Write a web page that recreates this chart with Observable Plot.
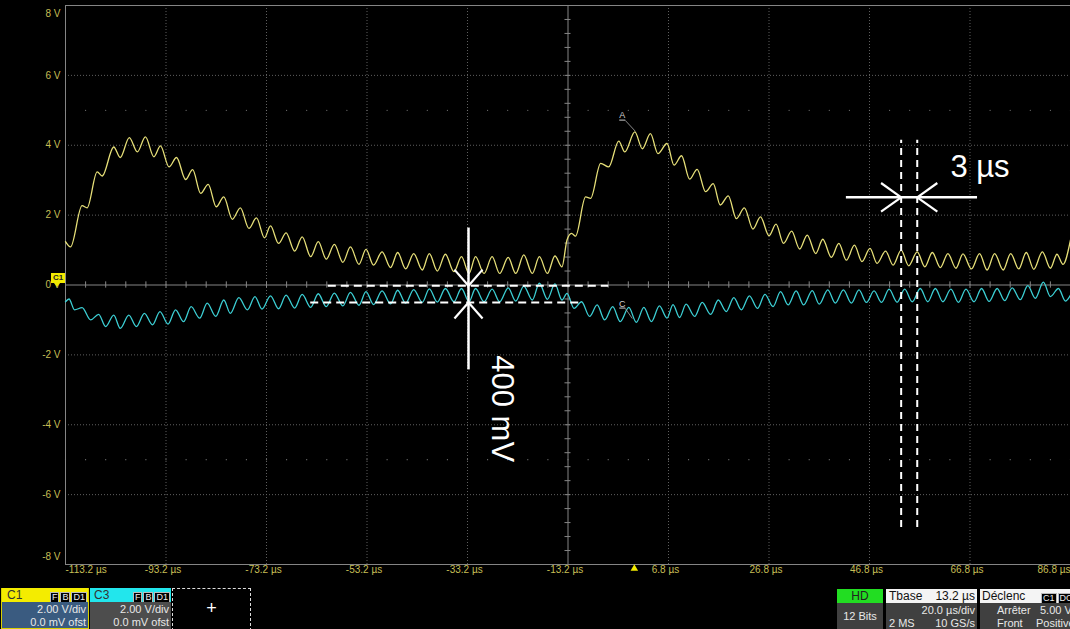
<!DOCTYPE html>
<html><head><meta charset="utf-8">
<script src="https://cdn.jsdelivr.net/npm/d3@7"></script>
<script src="https://cdn.jsdelivr.net/npm/@observablehq/plot@0.6"></script>
<style>
body{margin:0;background:#000;overflow:hidden}
#wrap{position:relative;width:1070px;height:629px;overflow:hidden;background:#000;font-family:"Liberation Sans",Arial,sans-serif}
#chart{position:absolute;left:0;top:0}
.box{position:absolute;box-sizing:border-box;overflow:hidden;font-size:11px;color:#e8e8e8}
.hdr{position:absolute;left:0;right:0;top:0;height:14px;line-height:14px;font-size:12px}
.bdy{position:absolute;left:0;right:0;top:14px;bottom:0}
.r{position:absolute;right:2px;white-space:nowrap}
.l{position:absolute;left:3px;white-space:nowrap}
.bd{display:inline-block;background:#000;color:#eee;border:1px solid #bbb;font-size:9px;line-height:9px;padding:0 1px;margin-left:1px}
#badge{position:absolute;left:51px;top:273px;width:14px;height:10px;background:#f2ea00;color:#222;font-size:8px;line-height:10px;text-align:center;font-weight:bold}
#badgeTri{position:absolute;left:54px;top:283px;width:0;height:0;border-left:3px solid transparent;border-right:3px solid transparent;border-top:4px solid #f2ea00}
</style></head>
<body><div id="wrap"><div id="chart"></div>
<div id="badge">C1</div><div id="badgeTri"></div>
<div class="box" style="left:1px;top:588px;width:88px;height:41px;border:1px solid #d8d000;border-top:none">
  <div class="hdr" style="background:#f4ec00;color:#333"><span style="position:absolute;left:5px">C1</span><span style="position:absolute;right:1px;top:1px"><span class="bd">F</span><span class="bd">B</span><span class="bd">D1</span></span></div>
  <div class="bdy" style="background:#3a5b80"><span class="r" style="top:1px">2.00 V/div</span><span class="r" style="top:14px">0.0 mV ofst</span></div>
</div>
<div class="box" style="left:90px;top:588px;width:81px;height:41px">
  <div class="hdr" style="background:#22e6ec;color:#333"><span style="position:absolute;left:4px">C3</span><span style="position:absolute;right:1px;top:1px"><span class="bd">F</span><span class="bd">B</span><span class="bd">D1</span></span></div>
  <div class="bdy" style="background:#4d4d4d"><span class="r" style="top:1px">2.00 V/div</span><span class="r" style="top:14px">0.0 mV ofst</span></div>
</div>
<div class="box" style="left:172px;top:588px;width:79px;height:43px;border:1px dashed #ddd;font-size:18px;text-align:center;line-height:38px;color:#fff">+</div>
<div class="box" style="left:837px;top:589px;width:46px;height:40px">
  <div class="hdr" style="background:#22dd22;color:#222;text-align:center">HD</div>
  <div class="bdy" style="background:#404040;text-align:center;line-height:26px">12 Bits</div>
</div>
<div class="box" style="left:886px;top:589px;width:91px;height:40px">
  <div class="hdr" style="background:#f4f4f4;color:#111"><span class="l">Tbase</span><span class="r">13.2 µs</span></div>
  <div class="bdy" style="background:#404040"><span class="r" style="top:1px">20.0 µs/div</span><span class="l" style="top:14px">2 MS</span><span class="r" style="top:14px">10 GS/s</span></div>
</div>
<div class="box" style="left:980px;top:589px;width:100px;height:40px">
  <div class="hdr" style="background:#f4f4f4;color:#111"><span class="l" style="left:2px">Déclenc</span><span style="position:absolute;left:60px;top:1px"><span class="bd">C1</span><span class="bd">DC</span></span></div>
  <div class="bdy" style="background:#404040"><span class="l" style="top:1px;left:17px">Arrêter</span><span style="position:absolute;left:60px;top:1px">5.00 V</span><span class="l" style="top:14px;left:17px">Front</span><span style="position:absolute;left:56px;top:14px">Positive</span></div>
</div>
</div>
<script>
// ---- axis ticks ----
const xTicks = [-113.2,-93.2,-73.2,-53.2,-33.2,-13.2,6.8,26.8,46.8,66.8,86.8]; // µs
const yTicks = [8,6,4,2,0,-2,-4,-6,-8]; // V
const centerTime = -13.2;

// ---- C1 (yellow) waveform: ripple extremes ----
const c1Time = [-113.2,-112.2,-109.9,-108.9,-106.9,-105.9,-103.6,-102.3,-100.5,-98.9,-97.3,-95.6,-94.3,-92.6,-91.1,-89.3,-87.9,-86.3,-84.8,-83.2,-81.7,-80.0,-78.4,-76.7,-75.2,-73.6,-72.4,-70.8,-69.3,-67.6,-66.1,-64.4,-62.9,-61.3,-59.7,-58.0,-56.5,-54.8,-53.4,-51.9,-50.2,-48.5,-47.1,-45.5,-43.9,-42.2,-40.8,-39.2,-37.6,-35.9,-34.4,-32.9,-31.6,-29.9,-28.3,-26.8,-25.1,-23.6,-22.0,-20.3,-18.9,-17.3,-15.8,-14.4,-13.4,-12.5,-11.7,-9.7,-8.7,-6.7,-5.1,-3.1,-1.9,0.1,1.6,3.2,4.7,6.5,7.9,9.4,11.0,12.5,14.2,15.7,17.1,18.7,20.3,21.9,23.6,25.1,26.8,28.2,29.7,31.3,32.9,34.4,36.1,37.5,39.2,40.7,42.2,43.8,45.3,46.9,48.3,50.0,51.5,53.1,54.6,56.3,57.8,59.3,60.9,62.4,64.0,65.4,67.1,68.7,70.2,71.7,73.4,74.9,76.5,78.0,79.5,81.2,82.8,84.1,85.3,86.8];
const c1Volt = [1.24,1.09,2.27,2.21,3.24,3.12,3.95,3.65,4.22,3.81,4.24,3.67,3.98,3.38,3.65,3.02,3.30,2.62,2.88,2.24,2.52,1.88,2.21,1.62,1.92,1.35,1.69,1.19,1.49,0.97,1.38,0.81,1.24,0.74,1.16,0.65,1.09,0.59,1.02,0.57,0.95,0.50,0.93,0.46,0.90,0.43,0.90,0.40,0.88,0.38,0.81,0.33,0.81,0.33,0.81,0.33,0.79,0.33,0.86,0.33,0.81,0.33,0.83,0.52,1.29,1.48,1.40,2.52,2.48,3.48,3.38,4.12,3.81,4.38,3.90,4.33,3.76,4.05,3.43,3.70,3.03,3.31,2.67,2.90,2.29,2.55,1.90,2.21,1.60,1.95,1.41,1.74,1.19,1.54,1.03,1.43,0.90,1.31,0.79,1.19,0.71,1.14,0.67,1.05,0.62,0.97,0.57,1.00,0.55,0.95,0.52,0.93,0.50,0.90,0.48,0.89,0.46,0.90,0.43,0.90,0.43,0.90,0.46,0.93,0.45,0.95,0.48,0.88,0.59,1.29];

// ---- C3 (cyan) waveform ----
const c3Time = [-113.2,-112.5,-111.4,-109.9,-108.2,-106.6,-105.2,-103.6,-102.3,-100.6,-99.1,-97.5,-95.9,-94.4,-92.8,-91.3,-89.7,-88.2,-86.5,-85.0,-83.3,-81.7,-80.4,-78.7,-77.0,-75.5,-74.1,
 -72.4,-70.8,-69.3,-67.6,-66.1,-64.4,-62.9,-61.3,-59.7,-58.0,-56.5,-54.8,-53.4,-51.9,-50.2,-48.5,-47.1,-45.5,-43.9,-42.2,-40.8,-39.2,-37.6,-35.9,-34.4,-32.9,-31.6,-29.9,-28.3,-26.8,-25.1,-23.6,-22.0,-20.3,-18.9,-17.3,-15.8,-14.4,
 -13.4,-12.0,-10.5,-8.9,-7.4,-5.9,-4.3,-2.8,-1.1,0.4,1.9,3.4,5.0,6.5,7.7,9.0,10.3,12.0,13.5,15.2,16.7,18.3,19.8,21.3,22.9,24.5,26.0,27.6,29.1,30.6,32.2,33.7,35.4,36.8,38.5,40.0,41.6,43.2,44.7,46.2,47.7,49.2,50.7,52.3,53.8,55.3,56.9,58.4,59.9,61.4,63.0,64.5,66.0,67.6,69.1,70.6,72.2,73.7,75.2,76.8,78.3,79.8,81.4,82.8,84.4,85.8,86.8];
const c3Volt = [-0.48,-0.40,-0.71,-0.65,-1.00,-0.84,-1.19,-0.86,-1.24,-0.86,-1.19,-0.81,-1.14,-0.76,-1.12,-0.71,-1.05,-0.62,-0.95,-0.52,-0.90,-0.43,-0.81,-0.36,-0.71,-0.33,-0.69,
 -0.31,-0.68,-0.29,-0.66,-0.27,-0.64,-0.25,-0.62,-0.23,-0.60,-0.21,-0.58,-0.19,-0.56,-0.17,-0.54,-0.15,-0.52,-0.13,-0.50,-0.11,-0.49,-0.10,-0.48,-0.10,-0.48,-0.10,-0.48,-0.12,-0.48,-0.08,-0.46,-0.03,-0.43,0.05,-0.41,0.03,-0.43,
 -0.24,-0.67,-0.48,-0.90,-0.57,-1.00,-0.62,-1.05,-0.64,-1.07,-0.64,-1.05,-0.60,-0.95,-0.56,-0.93,-0.55,-0.90,-0.50,-0.84,-0.43,-0.76,-0.36,-0.71,-0.31,-0.67,-0.27,-0.62,-0.19,-0.57,-0.17,-0.57,-0.16,-0.55,-0.14,-0.52,-0.14,-0.52,-0.14,-0.50,-0.17,-0.50,-0.12,-0.49,-0.12,-0.48,-0.10,-0.48,-0.10,-0.48,-0.12,-0.50,-0.12,-0.48,-0.10,-0.47,-0.10,-0.45,-0.08,-0.42,-0.02,-0.38,0.08,-0.33,-0.10,-0.46,-0.29];

// ---- annotations (data units: µs, V) ----
const periodMarks = [53.1, 56.3];            // 3 µs ripple period cursors
const periodSpan = [-6.94, 4.14];
const periodArrowY = 2.51, periodArrowX = [42.2, 68.3];
const periodLabel = {t: 62.9, v: 3.37, text: "3 µs"};
const ampLevels = [{v: -0.02, x1: -60.9, x2: -5.1}, {v: -0.50, x1: -64.4, x2: -10.1}];
const ampArrowX = -33.0, ampArrowY = [1.63, -2.43];
const ampLabel = {t: -26.4, v: -3.54, text: "400 mV"};
const traceLabels = [{t: -2.4, v: 4.86, text: "A", u: 4.72, l1: [-1.8, 4.71], l2: [0.2, 4.40]},
                     {t: -2.4, v: -0.54, text: "C", u: -0.66, l1: [-1.8, -0.67], l2: [-0.4, -0.96]}];

const c1 = c1Time.map((t, i) => ({t, v: c1Volt[i]}));
const c3 = c3Time.map((t, i) => ({t, v: c3Volt[i]}));

const gridTimes = xTicks.slice(1, -1).filter(d => d !== centerTime);
const gridVolts = yTicks.slice(1, -1).filter(d => d !== 0);
const minorTimes = d3.range(0, 51).map(i => xTicks[0] + i * 4);
const minorVolts = d3.range(0, 41).map(i => -8 + i * 0.4);
const subDots = [5, -5].flatMap(v => minorTimes.map(t => ({t, v})));

const heads = [
  {x1: periodMarks[0] - 4.0, y1: periodArrowY + 0.41, x2: periodMarks[0], y2: periodArrowY},
  {x1: periodMarks[0] - 4.0, y1: periodArrowY - 0.41, x2: periodMarks[0], y2: periodArrowY},
  {x1: periodMarks[1] + 4.0, y1: periodArrowY + 0.41, x2: periodMarks[1], y2: periodArrowY},
  {x1: periodMarks[1] + 4.0, y1: periodArrowY - 0.41, x2: periodMarks[1], y2: periodArrowY},
  {x1: ampArrowX - 2.8, y1: ampLevels[0].v + 0.46, x2: ampArrowX, y2: ampLevels[0].v},
  {x1: ampArrowX + 2.8, y1: ampLevels[0].v + 0.46, x2: ampArrowX, y2: ampLevels[0].v},
  {x1: ampArrowX - 2.8, y1: ampLevels[1].v - 0.46, x2: ampArrowX, y2: ampLevels[1].v},
  {x1: ampArrowX + 2.8, y1: ampLevels[1].v - 0.46, x2: ampArrowX, y2: ampLevels[1].v}
];

const grid = "#5f5f5f", axisC = "#858585", lab = "#c6be55";
const fmtV = d => `${d} V`;
const fmtT = d => `${d.toFixed(1)} µs`;

const chart = Plot.plot({
  width: 1070, height: 586,
  marginLeft: 65, marginRight: 0, marginTop: 5, marginBottom: 22,
  x: {domain: [-113.2, 86.8], axis: null},
  y: {domain: [-8, 8], axis: null},
  style: {background: "#000", fontFamily: "Liberation Sans, Arial, sans-serif"},
  marks: [
    Plot.ruleY(gridVolts, {stroke: grid, strokeDasharray: "1,2"}),
    Plot.ruleX(gridTimes, {stroke: grid, strokeDasharray: "1,2"}),
    Plot.dot(subDots, {x: "t", y: "v", r: 0.6, fill: "#777"}),
    Plot.ruleY([0], {stroke: axisC}),
    Plot.ruleX([centerTime], {stroke: axisC}),
    Plot.ruleX(minorTimes, {y1: -0.09, y2: 0.09, stroke: axisC}),
    Plot.ruleY(minorVolts, {x1: centerTime - 0.6, x2: centerTime + 0.6, stroke: axisC}),
    Plot.frame({stroke: axisC}),
    // traces
    Plot.line(c3, {x: "t", y: "v", curve: "monotone-x", stroke: "#3ccfd4", strokeWidth: 1.3}),
    Plot.line(c1, {x: "t", y: "v", curve: "monotone-x", stroke: "#e6df78", strokeWidth: 1.3}),
    // trace labels
    Plot.text(traceLabels, {x: "t", y: "v", text: "text", fill: "#cfcfcf", fontSize: 9}),
    Plot.link(traceLabels, {x1: d => d.t - 0.6, x2: d => d.t + 0.6, y1: "u", y2: "u", stroke: "#cfcfcf"}),
    Plot.link(traceLabels, {x1: d => d.l1[0], y1: d => d.l1[1], x2: d => d.l2[0], y2: d => d.l2[1], stroke: "#aaa", strokeWidth: 0.8}),
    // 3 µs annotation
    Plot.ruleX(periodMarks, {y1: periodSpan[0], y2: periodSpan[1], stroke: "#fff", strokeWidth: 2, strokeDasharray: "7,5"}),
    Plot.ruleY([periodArrowY], {x1: periodArrowX[0], x2: periodArrowX[1], stroke: "#fff", strokeWidth: 2.5}),
    // 400 mV annotation
    Plot.ruleY(ampLevels, {y: "v", x1: "x1", x2: "x2", stroke: "#fff", strokeWidth: 2, strokeDasharray: "8,5"}),
    Plot.ruleX([ampArrowX], {y1: ampArrowY[0], y2: ampArrowY[1], stroke: "#fff", strokeWidth: 2.5}),
    Plot.link(heads, {x1: "x1", y1: "y1", x2: "x2", y2: "y2", stroke: "#fff", strokeWidth: 2.2}),
    Plot.text([periodLabel], {x: "t", y: "v", text: "text", fill: "#fff", fontSize: 31, textAnchor: "start"}),
    Plot.text([ampLabel], {x: "t", y: "v", text: "text", fill: "#fff", fontSize: 31, rotate: 90}),
    // tick labels
    Plot.text(yTicks.slice(1, -1), {y: d => d, text: fmtV, frameAnchor: "left", textAnchor: "end", dx: -5, fill: lab, fontSize: 10}),
    Plot.text([yTicks[0]], {y: d => d, text: fmtV, frameAnchor: "left", textAnchor: "end", dx: -5, dy: 8, fill: lab, fontSize: 10}),
    Plot.text([yTicks[yTicks.length - 1]], {y: d => d, text: fmtV, frameAnchor: "left", textAnchor: "end", dx: -5, dy: -8, fill: lab, fontSize: 10}),
    Plot.text(xTicks.slice(1, -1), {x: d => d, text: fmtT, frameAnchor: "bottom", dy: 8, dx: -3, fill: lab, fontSize: 10}),
    Plot.text([xTicks[0]], {x: d => d, text: fmtT, frameAnchor: "bottom", dy: 8, textAnchor: "start", fill: lab, fontSize: 10}),
    Plot.text([xTicks[xTicks.length - 1]], {x: d => d, text: fmtT, frameAnchor: "bottom", dy: 8, textAnchor: "end", fill: lab, fontSize: 10}),
    // trigger marker at t = 0
    Plot.dot([0], {x: d => d, frameAnchor: "bottom", dy: 4, symbol: "triangle", r: 2.8, fill: "#f2ea00"})
  ]
});
document.getElementById("chart").appendChild(chart);
</script></body></html>
